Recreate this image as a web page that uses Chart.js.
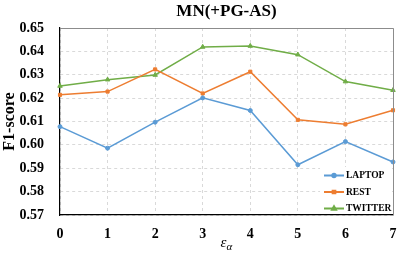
<!DOCTYPE html>
<html>
<head>
<meta charset="utf-8">
<script src="https://cdn.jsdelivr.net/npm/chart.js@4/dist/chart.umd.min.js"></script>
<style>
  body { margin: 0; background: #fff; }
  #wrap { width: 399px; height: 253px; }
</style>
</head>
<body>
<div id="wrap"><canvas id="f1Chart" width="399" height="253"></canvas></div>
<script>
const epsLabels = ["0", "1", "2", "3", "4", "5", "6", "7"];
const laptop = [0.6078, 0.5986, 0.6097, 0.6201, 0.6147, 0.5915, 0.6014, 0.5927];
const rest = [0.6214, 0.6228, 0.6323, 0.6220, 0.6313, 0.6107, 0.6088, 0.6148];
const twitter = [0.6252, 0.6279, 0.6299, 0.6419, 0.6423, 0.6386, 0.6271, 0.6234];
const seriesNames = ["LAPTOP", "REST", "TWITTER"];
const chartTitle = "MN(+PG-AS)";

const serif = "'Liberation Serif', 'Times New Roman', serif";
const blue = "#5b9bd5", orange = "#ed7d31", green = "#70ad47";

// draws title, x title, frame and the legend inside the plot
const extras = {
  id: "extras",
  afterDraw(chart) {
    const ctx = chart.ctx;
    const a = chart.chartArea;
    ctx.save();

    // top + right frame
    ctx.strokeStyle = "#8c8c8c";
    ctx.lineWidth = 1;
    ctx.beginPath();
    ctx.moveTo(a.left, a.top + 0.5);
    ctx.lineTo(a.right + 0.5, a.top + 0.5);
    ctx.lineTo(a.right + 0.5, a.bottom);
    ctx.stroke();

    // title
    ctx.fillStyle = "#000";
    ctx.font = "bold 17px " + serif;
    ctx.textAlign = "center";
    ctx.textBaseline = "middle";
    ctx.fillText(chartTitle, (a.left + a.right) / 2, 12);

    // x title: epsilon with alpha subscript
    const cx = (a.left + a.right) / 2;
    ctx.font = "italic 15px " + serif;
    ctx.textAlign = "right";
    ctx.textBaseline = "alphabetic";
    ctx.fillText("\u03b5", cx, 247);
    ctx.font = "italic 11px " + serif;
    ctx.textAlign = "left";
    ctx.fillText("\u03b1", cx, 250);

    // legend
    ctx.fillStyle = "#fff";
    ctx.fillRect(a.right - 73, a.bottom - 48, 72, 47);
    chart.data.datasets.forEach((ds, i) => {
      const y = a.bottom - 39.5 + i * 16.5;
      const x0 = a.right - 69, x1 = a.right - 49;
      ctx.strokeStyle = ds.borderColor;
      ctx.lineWidth = 2;
      ctx.beginPath();
      ctx.moveTo(x0, y);
      ctx.lineTo(x1, y);
      ctx.stroke();
      Chart.helpers.drawPoint(ctx, {
        pointStyle: ds.pointStyle,
        radius: ds.pointRadius - 0.3,
        rotation: 0,
        borderWidth: 1
      }, (x0 + x1) / 2, y);
      ctx.fillStyle = ds.borderColor;
      ctx.fill();
      ctx.fillStyle = "#000";
      ctx.font = "bold 9.5px " + serif;
      ctx.textAlign = "left";
      ctx.textBaseline = "middle";
      ctx.fillText(ds.label, x1 + 2, y + 0.5);
    });
    ctx.restore();
  }
};

function makeSet(name, values, color, style, r) {
  return {
    label: name,
    data: values,
    borderColor: color,
    backgroundColor: color,
    borderWidth: 1.5,
    pointStyle: style,
    pointRadius: r,
    pointBorderWidth: 1,
    tension: 0
  };
}

new Chart(document.getElementById("f1Chart"), {
  type: "line",
  data: {
    labels: epsLabels,
    datasets: [
      makeSet(seriesNames[0], laptop, blue, "circle", 2),
      makeSet(seriesNames[1], rest, orange, "rect", 2.2),
      makeSet(seriesNames[2], twitter, green, "triangle", 2.6)
    ]
  },
  options: {
    responsive: false,
    animation: false,
    layout: { padding: { top: 28, right: 6, left: 0, bottom: 0 } },
    plugins: {
      legend: { display: false },
      title: { display: false },
      tooltip: { enabled: false }
    },
    scales: {
      x: {
        offset: false,
        grid: { color: "#d9d9d9", drawTicks: false },
        border: { color: "#000", width: 1.2, dash: [3, 3] },
        ticks: {
          padding: 11,
          color: "#000",
          font: { family: serif, size: 14, weight: "bold" }
        },
        afterFit(scale) {
          scale.height = 38;
          scale.paddingLeft = 0;
          scale.paddingRight = 0;
        }
      },
      y: {
        min: 0.57,
        max: 0.65,
        grid: { color: "#d9d9d9", drawTicks: false },
        border: { color: "#000", width: 1.2, dash: [3, 3] },
        ticks: {
          stepSize: 0.01,
          padding: 16,
          color: "#000",
          font: { family: serif, size: 14, weight: "bold" },
          callback: v => v.toFixed(2)
        },
        title: {
          display: true,
          text: "F1-score",
          color: "#000",
          padding: { top: 0, bottom: 0 },
          font: { family: serif, size: 16, weight: "bold" }
        },
        afterFit(scale) {
          scale.width = 60;
          scale.paddingTop = 0;
          scale.paddingBottom = 0;
        }
      }
    }
  },
  plugins: [extras]
});
</script>
</body>
</html>
